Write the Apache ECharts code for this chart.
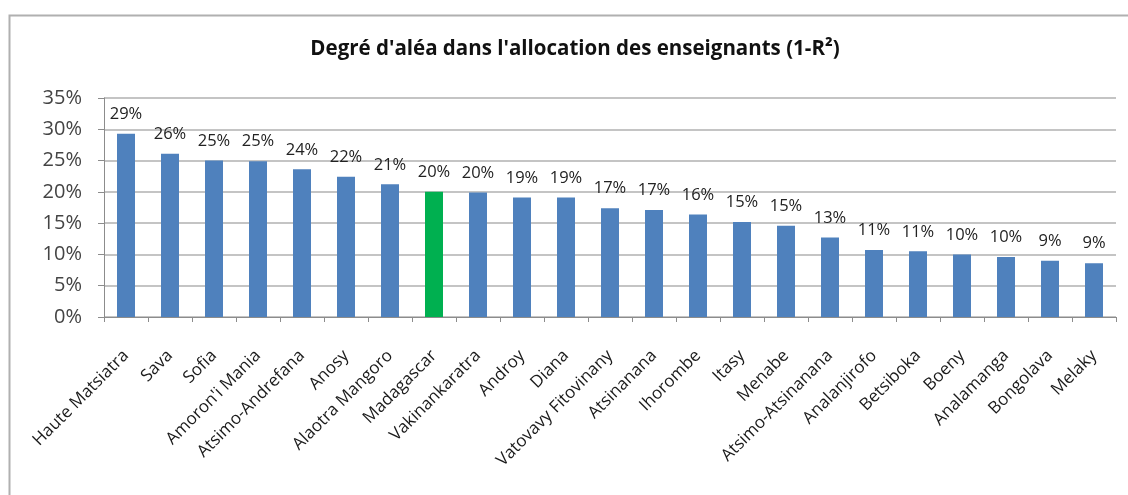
<!DOCTYPE html>
<html>
<head>
<meta charset="utf-8">
<script src="https://cdn.jsdelivr.net/npm/echarts@6/dist/echarts.min.js"></script>
<style>
  html, body { margin: 0; padding: 0; background: #fff; }
  #chart { width: 1128px; height: 495px; }
</style>
</head>
<body>
<div id="chart"></div>
<script>
const regions = [
    'Haute Matsiatra', 'Sava', 'Sofia', "Amoron'i Mania", 'Atsimo-Andrefana',
    'Anosy', 'Alaotra Mangoro', 'Madagascar', 'Vakinankaratra', 'Androy',
    'Diana', 'Vatovavy Fitovinany', 'Atsinanana', 'Ihorombe', 'Itasy',
    'Menabe', 'Atsimo-Atsinanana', 'Analanjirofo', 'Betsiboka', 'Boeny',
    'Analamanga', 'Bongolava', 'Melaky'
];
// 1-R² in percent
const alea = [
    29.3, 26.1, 25.0, 24.9, 23.6,
    22.4, 21.2, 20.0, 19.9, 19.1,
    19.1, 17.4, 17.1, 16.4, 15.2,
    14.6, 12.7, 10.7, 10.5, 10.0,
    9.6, 9.0, 8.6
];
const yTicks = [0, 5, 10, 15, 20, 25, 30, 35];
const highlight = 'Madagascar';

const chart = echarts.init(document.getElementById('chart'));

const barData = alea.map((v, i) => ({
    value: v,
    itemStyle: { color: regions[i] === highlight ? '#00b050' : '#4f81bd' }
}));

chart.setOption({
    animation: false,
    title: {
        text: "Degré d'aléa dans l'allocation des enseignants (1-R²)",
        left: 570,
        top: 34,
        textAlign: 'center',
        textStyle: { fontFamily: 'Open Sans', fontSize: 20.5, fontWeight: 'bold', color: '#111' }
    },
    graphic: [{
        type: 'rect',
        shape: { x: 9.5, y: 15.5, width: 1200, height: 600 },
        style: { fill: 'none', stroke: '#b0b0b0', lineWidth: 2 },
        silent: true
    }],
    grid: { left: 104, right: 12, top: 98, bottom: 178, containLabel: false },
    xAxis: {
        type: 'category',
        data: regions,
        axisLine: { lineStyle: { color: '#8c8c8c', width: 1 } },
        axisTick: { show: true, length: 5, lineStyle: { color: '#8c8c8c' } },
        axisLabel: {
            rotate: 45,
            interval: 0,
            margin: 36,
            fontFamily: 'Open Sans',
            fontSize: 17,
            color: '#1a1a1a'
        }
    },
    yAxis: {
        type: 'value',
        min: yTicks[0],
        max: yTicks[yTicks.length - 1],
        interval: 5,
        axisLine: { show: true, lineStyle: { color: '#8c8c8c' } },
        axisTick: { show: true, length: 6, lineStyle: { color: '#8c8c8c' } },
        axisLabel: {
            formatter: v => v + '%',
            margin: 22,
            fontFamily: 'Open Sans',
            fontSize: 20,
            color: '#444'
        },
        splitLine: { lineStyle: { color: '#b0b0b0', width: 1.5 } }
    },
    series: [{
        type: 'bar',
        data: barData,
        barWidth: 18,
        label: {
            show: true,
            position: 'top',
            distance: 11,
            formatter: p => Math.round(p.value) + '%',
            fontFamily: 'Open Sans',
            fontSize: 16.5,
            color: '#222'
        }
    }]
});
</script>
</body>
</html>
